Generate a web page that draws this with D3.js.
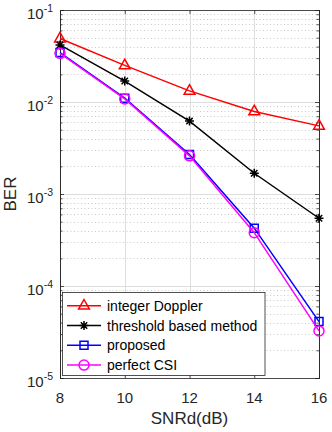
<!DOCTYPE html>
<html><head><meta charset="utf-8">
<script src="https://cdn.jsdelivr.net/npm/d3@7"></script>
<style>body{margin:0;background:#fff}svg{display:block}</style>
</head><body>
<script>
const snr = [8, 10, 12, 14, 16];
const integerDoppler = [0.049, 0.025, 0.0132, 0.0079, 0.0055];
const thresholdMethod = [0.0417, 0.0169, 0.0062, 0.00168, 0.000545];
const proposed = [0.0345, 0.011, 0.00268, 0.000425, 0.000041];
const perfectCSI = [0.0338, 0.0108, 0.0026, 0.00038, 0.0000325];
const xTicks = [8, 10, 12, 14, 16];
const yExponents = [-5, -4, -3, -2, -1];
const seriesNames = ["integer Doppler", "threshold based method", "proposed", "perfect CSI"];

const W = 332, H = 432;
const L = 60, R = 319, T = 10, B = 378;
const font = "'Liberation Sans', Arial, Helvetica, sans-serif";
const axisColor = "#262626";

const svg = d3.select("body").append("svg").attr("width", W).attr("height", H);
const x = d3.scaleLinear().domain([8, 16]).range([L, R]);
const y = d3.scaleLog().domain([1e-5, 1e-1]).range([B, T]);

svg.append("rect").attr("x", L).attr("y", T).attr("width", R - L).attr("height", B - T).attr("fill", "#fff");

// minor grid
const minorVals = [];
yExponents.slice(0, 4).forEach(e => { for (let k = 2; k <= 9; k++) minorVals.push(k * Math.pow(10, e)); });
svg.append("g").selectAll("line").data(minorVals).join("line")
  .attr("x1", L).attr("x2", R).attr("y1", d => Math.round(y(d)) + 0.5).attr("y2", d => Math.round(y(d)) + 0.5)
  .attr("stroke", "#bdbdbd").attr("stroke-width", 0.8).attr("stroke-dasharray", "1,2.5");
// major grid
svg.append("g").selectAll("line").data(yExponents.map(e => Math.pow(10, e))).join("line")
  .attr("x1", L).attr("x2", R).attr("y1", d => Math.round(y(d)) + 0.5).attr("y2", d => Math.round(y(d)) + 0.5)
  .attr("stroke", "#dedede").attr("stroke-width", 1);
svg.append("g").selectAll("line").data(xTicks).join("line")
  .attr("x1", d => Math.round(x(d)) + 0.5).attr("x2", d => Math.round(x(d)) + 0.5).attr("y1", T).attr("y2", B)
  .attr("stroke", "#dedede").attr("stroke-width", 1);

// axes via d3 axis generators (inward ticks)
const xAxisB = d3.axisBottom(x).tickValues(xTicks).tickSize(-4).tickFormat("");
const xAxisT = d3.axisTop(x).tickValues(xTicks).tickSize(-4).tickFormat("");
const yAxisL = d3.axisLeft(y).tickValues(yExponents.map(e => Math.pow(10, e))).tickSize(-4).tickFormat("");
const yAxisR = d3.axisRight(y).tickValues(yExponents.map(e => Math.pow(10, e))).tickSize(-4).tickFormat("");
const yMinorL = d3.axisLeft(y).tickValues(minorVals).tickSize(-2.5).tickFormat("");
const yMinorR = d3.axisRight(y).tickValues(minorVals).tickSize(-2.5).tickFormat("");
function styleAxis(g) {
  g.selectAll("path").attr("stroke", axisColor).attr("stroke-width", 0.8);
  g.selectAll("line").attr("stroke", axisColor).attr("stroke-width", 0.8);
}
svg.append("g").attr("transform", `translate(0,${B})`).call(xAxisB).call(styleAxis);
svg.append("g").attr("transform", `translate(0,${T})`).call(xAxisT).call(styleAxis);
svg.append("g").attr("transform", `translate(${L},0)`).call(yAxisL).call(styleAxis);
svg.append("g").attr("transform", `translate(${R},0)`).call(yAxisR).call(styleAxis);
svg.append("g").attr("transform", `translate(${L},0)`).call(yMinorL).call(styleAxis);
svg.append("g").attr("transform", `translate(${R},0)`).call(yMinorR).call(styleAxis);
svg.selectAll(".domain").attr("stroke", axisColor);

// tick labels
svg.append("g").selectAll("text").data(xTicks).join("text")
  .attr("x", d => x(d)).attr("y", 402.5).attr("text-anchor", "middle")
  .attr("font-family", font).attr("font-size", 15).attr("fill", axisColor).text(d => d);
const yl = svg.append("g").selectAll("text").data(yExponents).join("text")
  .attr("x", 53).attr("y", d => y(Math.pow(10, d)) + 8.5).attr("text-anchor", "end")
  .attr("font-family", font).attr("font-size", 15).attr("fill", axisColor);
yl.append("tspan").text("10");
yl.append("tspan").attr("font-size", 10.5).attr("dy", -6.5).text(d => "-" + Math.abs(d));

// axis labels
svg.append("text").attr("x", (L + R) / 2).attr("y", 424).attr("text-anchor", "middle")
  .attr("font-family", font).attr("font-size", 17).attr("fill", axisColor).text("SNRd(dB)");
svg.append("text").attr("transform", `translate(16,${(T + B) / 2}) rotate(-90)`).attr("text-anchor", "middle")
  .attr("font-family", font).attr("font-size", 17).attr("fill", axisColor).text("BER");

// markers
const sym = {
  tri: "M0,-6.2L5.4,3.4L-5.4,3.4Z",
  star: "M-4.5,0L4.5,0M0,-4.5L0,4.5M-3.2,-3.2L3.2,3.2M-3.2,3.2L3.2,-3.2",
  square: "M-4,-4L4,-4L4,4L-4,4Z",
  circle: "M5,0A5,5 0 1,1 -5,0A5,5 0 1,1 5,0Z"
};
const series = [
  { name: seriesNames[0], vals: integerDoppler, color: "#ff0000", m: sym.tri },
  { name: seriesNames[1], vals: thresholdMethod, color: "#000000", m: sym.star },
  { name: seriesNames[2], vals: proposed, color: "#0000ff", m: sym.square },
  { name: seriesNames[3], vals: perfectCSI, color: "#ff00ff", m: sym.circle }
];
const line = d3.line().x((d, i) => x(snr[i])).y(d => y(d));
series.forEach(s => {
  svg.append("path").attr("d", line(s.vals)).attr("fill", "none").attr("stroke", s.color).attr("stroke-width", 1.5);
  svg.append("g").selectAll("path").data(s.vals).join("path")
    .attr("transform", (d, i) => `translate(${x(snr[i])},${y(d)})`)
    .attr("d", s.m).attr("fill", "none").attr("stroke", s.color).attr("stroke-width", 1.5);
});

// legend
const lg = svg.append("g");
lg.append("rect").attr("x", 62.5).attr("y", 292.5).attr("width", 202.5).attr("height", 83)
  .attr("fill", "#fff").attr("stroke", axisColor).attr("stroke-width", 0.8);
series.forEach((s, i) => {
  const cy = 305.7 + i * 19.8;
  lg.append("line").attr("x1", 67).attr("x2", 101).attr("y1", cy).attr("y2", cy).attr("stroke", s.color).attr("stroke-width", 1.5);
  lg.append("path").attr("transform", `translate(84,${cy})`).attr("d", s.m).attr("fill", "none").attr("stroke", s.color).attr("stroke-width", 1.5);
  lg.append("text").attr("x", 107).attr("y", cy + 5).attr("font-family", font).attr("font-size", 14)
    .attr("fill", "#000").text(s.name);
});
</script>
</body></html>
